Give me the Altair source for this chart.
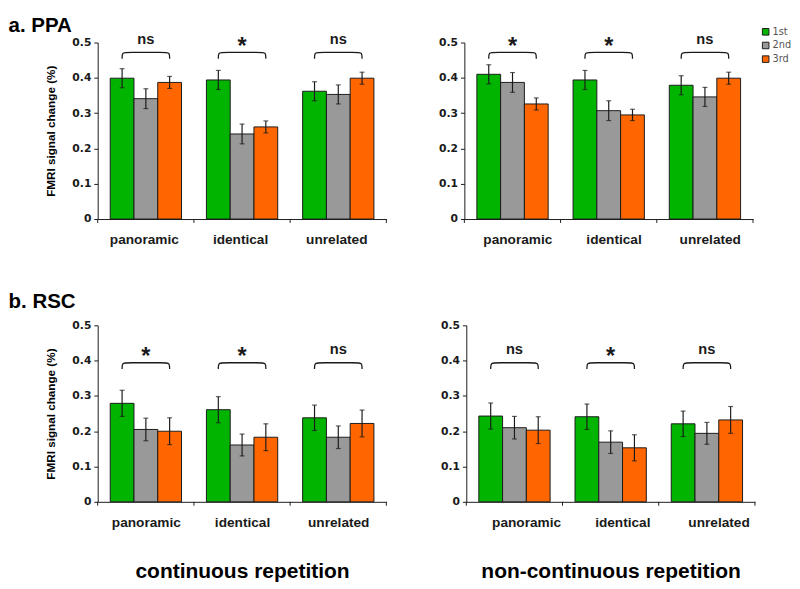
import json
import altair as alt
import pandas as pd

# ---------------- data ----------------
categories = ["panoramic", "identical", "unrelated"]
series = ["1st", "2nd", "3rd"]
colors = ["#00B400", "#999999", "#FF6600"]

ppa_cont_means = [[0.399, 0.341, 0.387], [0.394, 0.241, 0.261], [0.362, 0.353, 0.399]]
ppa_cont_err = [[0.027, 0.028, 0.017], [0.027, 0.028, 0.017], [0.027, 0.027, 0.017]]
ppa_cont_sig = ["ns", "*", "ns"]

ppa_noncont_means = [[0.410, 0.387, 0.326], [0.394, 0.307, 0.295], [0.379, 0.346, 0.399]]
ppa_noncont_err = [[0.027, 0.028, 0.017], [0.027, 0.028, 0.016], [0.027, 0.027, 0.017]]
ppa_noncont_sig = ["*", "*", "ns"]

rsc_cont_means = [[0.279, 0.205, 0.200], [0.261, 0.161, 0.183], [0.238, 0.183, 0.222]]
rsc_cont_err = [[0.037, 0.032, 0.038], [0.037, 0.031, 0.038], [0.036, 0.032, 0.038]]
rsc_cont_sig = ["*", "*", "ns"]

rsc_noncont_means = [[0.243, 0.210, 0.203], [0.241, 0.169, 0.153], [0.221, 0.194, 0.232]]
rsc_noncont_err = [[0.037, 0.032, 0.038], [0.036, 0.032, 0.037], [0.036, 0.031, 0.038]]
rsc_noncont_sig = ["ns", "*", "ns"]

ppa_bracket_level = 0.472
rsc_bracket_level = 0.394
y_ticks = [0, 0.1, 0.2, 0.3, 0.4, 0.5]

# ---------------- style ----------------
W, H = 296, 181
BAR_OFF, BAR_W = 0.13, 0.247
ARIAL = "Liberation Sans"
VERDANA = "DejaVu Sans"
INK = "#1a1a1a"


def panel(means, errs, sigs, level, title=None, title_offset=0, ytitle=None, xtitle=None,
          legend=False, label_shift=0):
    bars = []
    for i, c in enumerate(categories):
        for j, s in enumerate(series):
            x0 = i + BAR_OFF + j * BAR_W
            m, e = means[i][j], errs[i][j]
            bars.append(dict(cat=c, series=s, x0=x0, x1=x0 + BAR_W, xc=x0 + BAR_W / 2,
                             mean=m, lo=m - e, hi=m + e))
    bdf = pd.DataFrame(bars)

    # bracket path from 1st-bar centre to 3rd-bar centre
    br = []
    low = level - 0.018
    for i, c in enumerate(categories):
        L = i + BAR_OFF + BAR_W / 2
        R = i + BAR_OFF + 2.5 * BAR_W
        d = 0.05
        pts = [(L, low), (L, level), (L + d, level), (R - d, level), (R, level), (R, low)]
        for k, (bx, by) in enumerate(pts):
            br.append(dict(cat=c, k=k, bx=bx, by=by))
    brdf = pd.DataFrame(br)

    tdf = pd.DataFrame([dict(cat=c, tx=i + 0.5, ty=level + 0.024, sig=sigs[i])
                        for i, c in enumerate(categories)])
    tickdf = pd.DataFrame({"tick": list(range(len(categories) + 1))})

    label_expr = "%s[floor(datum.value)]" % json.dumps(categories)
    x_axis = alt.Axis(values=[i + 0.5 for i in range(len(categories))], labelExpr=label_expr,
                      ticks=False, grid=False, domainColor=INK, domainWidth=1,
                      labelFont=ARIAL, labelFontSize=14, labelFontWeight="bold",
                      labelColor=INK, labelPadding=14, labelOffset=label_shift,
                      title=xtitle if xtitle else None,
                      titleFont=ARIAL, titleFontSize=21.5, titleFontWeight="bold",
                      titleColor="#000", titlePadding=33)
    y_axis = alt.Axis(values=y_ticks, tickCount=len(y_ticks),
                      labelExpr="datum.value == 0 ? '0' : format(datum.value, '.1f')",
                      labelOverlap=False,
                      tickSize=4, tickColor=INK, domainColor=INK, grid=False,
                      labelFont=VERDANA, labelFontSize=11, labelFontWeight="bold",
                      labelColor=INK, labelPadding=3,
                      title=ytitle if ytitle else None,
                      titleFont=ARIAL, titleFontSize=12, titleFontWeight="bold",
                      titleColor="#000", titlePadding=15)
    xs = alt.Scale(domain=[0, len(categories)], nice=False, zero=False)
    ys = alt.Scale(domain=[0, 0.5], nice=False, zero=True)

    def X(f):
        return alt.X(f, scale=xs, axis=x_axis)

    def Y(f):
        return alt.Y(f, scale=ys, axis=y_axis)

    if legend:
        leg = alt.Legend(title=None, orient="none", legendX=W + 8, legendY=-16,
                         symbolType="square", symbolSize=45, symbolStrokeColor=INK,
                         symbolStrokeWidth=1, symbolOpacity=1,
                         labelFont=VERDANA, labelFontSize=10, labelColor="#555",
                         labelOffset=2, rowPadding=2)
    else:
        leg = None

    bar_layer = alt.Chart(bdf).mark_bar(stroke=INK, strokeWidth=1).encode(
        x=X("x0:Q"),
        x2="x1:Q",
        y=Y("mean:Q"),
        y2=alt.datum(0),
        color=alt.Color("series:N", scale=alt.Scale(domain=series, range=colors), legend=leg),
    )
    err_layer = alt.Chart(bdf).mark_rule(color=INK, strokeWidth=1.2).encode(
        x=X("xc:Q"), y=Y("lo:Q"), y2="hi:Q")
    cap_layer = alt.Chart(bdf).transform_fold(["lo", "hi"]).mark_tick(
        orient="horizontal", size=5, thickness=1.2, color=INK).encode(
        x=X("xc:Q"), y=Y("value:Q"))
    bracket = alt.Chart(brdf).mark_line(interpolate="basis", color=INK, strokeWidth=1.3).encode(
        x=X("bx:Q"), y=Y("by:Q"), detail="cat:N", order="k:Q")
    ns_text = alt.Chart(tdf).transform_filter("datum.sig == 'ns'").mark_text(
        font=ARIAL, fontWeight="bold", fontSize=15, baseline="alphabetic", color=INK).encode(
        x=X("tx:Q"), y=Y("ty:Q"), text="sig:N")
    star_text = alt.Chart(tdf).transform_filter("datum.sig == '*'").mark_text(
        font=ARIAL, fontWeight="bold", fontSize=24, baseline="alphabetic", dy=10, color=INK).encode(
        x=X("tx:Q"), y=Y("ty:Q"), text="sig:N")
    ticks = alt.Chart(tickdf).mark_rule(color=INK, strokeWidth=1).encode(
        x=X("tick:Q"), y=alt.value(H), y2=alt.value(H + 4))

    ch = alt.layer(bar_layer, err_layer, cap_layer, bracket, ns_text, star_text, ticks).properties(
        width=W, height=H)
    if title:
        ch = ch.properties(title=alt.Title(title, anchor="start", frame="bounds", fontSize=21,
                                           font=ARIAL, fontWeight="bold", color="#000",
                                           dx=-37, offset=title_offset))
    return ch


p1 = panel(ppa_cont_means, ppa_cont_err, ppa_cont_sig, ppa_bracket_level,
           title="a. PPA", title_offset=-4, ytitle="FMRI signal change (%)", label_shift=-2)
p2 = panel(ppa_noncont_means, ppa_noncont_err, ppa_noncont_sig, ppa_bracket_level,
           legend=True, label_shift=5)
p3 = panel(rsc_cont_means, rsc_cont_err, rsc_cont_sig, rsc_bracket_level,
           title="b. RSC", title_offset=8, ytitle="FMRI signal change (%)",
           xtitle="continuous repetition")
p4 = panel(rsc_noncont_means, rsc_noncont_err, rsc_noncont_sig, rsc_bracket_level,
           xtitle="non-continuous repetition", label_shift=12)

top = alt.hconcat(p1, p2, spacing=52).resolve_legend(color="independent")
bottom = alt.hconcat(p3, p4, spacing=54).resolve_legend(color="independent")
chart = alt.vconcat(top, bottom, spacing=46).resolve_legend(color="independent").properties(
    padding={"left": 0, "top": 0, "right": 0, "bottom": 0},
    background="white",
).configure_view(stroke=None)

chart.save("out.html", embed_options={"renderer": "svg", "actions": False})
